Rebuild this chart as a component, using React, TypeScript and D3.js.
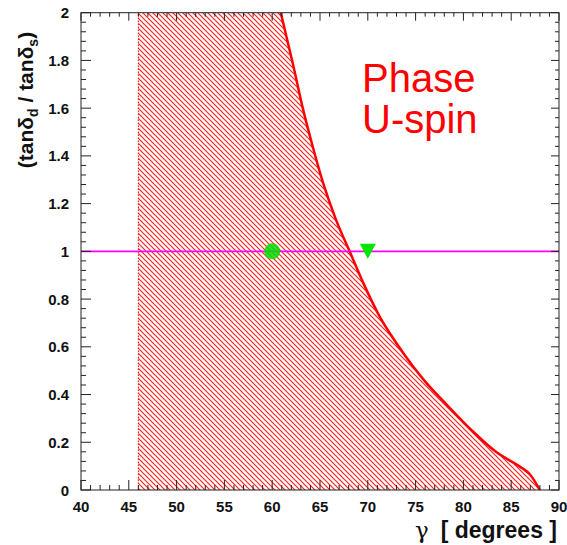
import React from "react";
import * as d3 from "d3";

// Boundary of the allowed region: gamma (degrees) vs tan(delta_d)/tan(delta_s)
const curveGamma = [60.9, 62.2, 63.2, 64.3, 65.3, 66.7, 68.1, 69.5, 71.2, 73.0, 74.7, 76.1, 78.2, 81.0, 83.4, 86.2, 86.9, 88.0];
const curveRatio = [2.0, 1.78, 1.6, 1.43, 1.29, 1.13, 1.0, 0.87, 0.73, 0.615, 0.52, 0.45, 0.36, 0.245, 0.16, 0.09, 0.068, 0.0];

// Lower gamma bound of the hatched region
const gammaMin = 46;

// Reference markers
const circlePoint = { gamma: 60, ratio: 1 };
const trianglePoint = { gamma: 70, ratio: 1 };
const refLine = 1;

const xTicks = [40, 45, 50, 55, 60, 65, 70, 75, 80, 85, 90];
const yTicks = [0, 0.2, 0.4, 0.6, 0.8, 1, 1.2, 1.4, 1.6, 1.8, 2];

const W = 567;
const H = 545;
const left = 81;
const right = 559;
const top = 12.7;
const bottom = 490;

export default function App() {
  const x = d3.scaleLinear().domain([40, 90]).range([left, right]);
  const y = d3.scaleLinear().domain([0, 2]).range([bottom, top]);

  const pts: [number, number][] = curveGamma.map((g, i) => [g, curveRatio[i]]);
  const line = d3
    .line<[number, number]>()
    .x((d) => x(d[0]))
    .y((d) => y(d[1]))
    .curve(d3.curveMonotoneX);
  const curvePath = line(pts) || "";

  // hatched region: vertical edge at gammaMin, top of frame, then down the curve
  const areaPath =
    `M${x(gammaMin)},${y(0)}L${x(gammaMin)},${y(2)}L` + curvePath.slice(1) + "Z";

  const xMinor = d3.range(40, 90.001, 1);
  const yMinor = d3.range(0, 2.0001, 0.04);
  const tickColor = "#222";
  const font = "'Liberation Sans', Arial, sans-serif";

  const triSize = 16;
  const tx = x(trianglePoint.gamma);
  const ty = y(trianglePoint.ratio);
  const triPath = `M${tx - triSize / 2},${ty - triSize / 2 + 0.5}L${tx + triSize / 2},${ty - triSize / 2 + 0.5}L${tx},${ty + triSize / 2 - 0.5}Z`;
  const refY = y(refLine);

  return (
    <svg
      width={W}
      height={H}
      style={{ position: "absolute", left: 0, top: 0, background: "#fff" }}
    >
      <defs>
        <pattern id="hatch" patternUnits="userSpaceOnUse" width={5} height={5}>
          <path d="M-1,-1L6,6M-1,4L1,6M4,-1L6,1" stroke="#ff2020" strokeWidth={1.2} />
        </pattern>
        <clipPath id="frame">
          <rect x={left} y={top} width={right - left} height={bottom - top} />
        </clipPath>
      </defs>

      <g clipPath="url(#frame)">
        <path d={areaPath} fill="url(#hatch)" />
        <line
          x1={x(gammaMin)}
          x2={x(gammaMin)}
          y1={y(0)}
          y2={y(2)}
          stroke="#ff0000"
          strokeWidth={1}
          strokeDasharray="1.5,1.5"
        />
        <path d={curvePath} fill="none" stroke="#ff0000" strokeWidth={2.5} />
        <line x1={left} x2={right} y1={refY} y2={refY} stroke="#ff00ff" strokeWidth={1.8} />
        <circle cx={x(circlePoint.gamma)} cy={y(circlePoint.ratio)} r={8} fill="#00e000" fillOpacity={0.85} />
        <path d={triPath} fill="#00e600" />
      </g>

      {/* frame */}
      <rect x={left} y={top} width={right - left} height={bottom - top} fill="none" stroke={tickColor} strokeWidth={1} />

      {/* x ticks (bottom and top) */}
      {xMinor.map((v) => {
        const major = Math.abs(v % 5) < 1e-6;
        const px = x(v);
        return (
          <g key={"xt" + v}>
            <line x1={px} x2={px} y1={bottom} y2={bottom - (major ? 10 : 5)} stroke={tickColor} />
            <line x1={px} x2={px} y1={top} y2={top + (major ? 8 : 4)} stroke={tickColor} />
          </g>
        );
      })}
      {/* y ticks (left and right) */}
      {yMinor.map((v, i) => {
        const major = i % 5 === 0;
        const py = y(v);
        return (
          <g key={"yt" + i}>
            <line x1={left} x2={left + (major ? 10 : 5)} y1={py} y2={py} stroke={tickColor} />
            <line x1={right} x2={right - (major ? 8 : 4)} y1={py} y2={py} stroke={tickColor} />
          </g>
        );
      })}

      {/* tick labels */}
      {xTicks.map((v) => (
        <text
          key={"xl" + v}
          x={x(v)}
          y={512}
          textAnchor="middle"
          fontFamily={font}
          fontWeight="bold"
          fontSize={15}
          fill="#111"
        >
          {v}
        </text>
      ))}
      {yTicks.map((v) => (
        <text
          key={"yl" + v}
          x={69}
          y={y(v) + 5.5}
          textAnchor="end"
          fontFamily={font}
          fontWeight="bold"
          fontSize={15}
          fill="#111"
        >
          {String(v)}
        </text>
      ))}

      {/* axis titles */}
      <text
        x={557}
        y={538}
        textAnchor="end"
        fontFamily={font}
        fontSize={23}
        fill="#111"
      >
        <tspan fontFamily="'DejaVu Serif', serif" fontSize={23}>γ</tspan>
        <tspan fontWeight="bold" dx={12}>[ degrees ]</tspan>
      </text>
      <text
        transform="translate(33,100) rotate(-90)"
        textAnchor="middle"
        fontFamily={font}
        fontWeight="bold"
        fontSize={21}
        fill="#111"
      >
        (tanδ
        <tspan fontSize={14} dy={5}>d</tspan>
        <tspan dy={-5}> / tanδ</tspan>
        <tspan fontSize={14} dy={5}>s</tspan>
        <tspan dy={-5}>)</tspan>
      </text>

      {/* annotation */}
      <text x={362} y={92} fontFamily={font} fontSize={40} fill="#ff0000">
        Phase
      </text>
      <text x={362} y={133} fontFamily={font} fontSize={40} fill="#ff0000">
        U-spin
      </text>
    </svg>
  );
}
